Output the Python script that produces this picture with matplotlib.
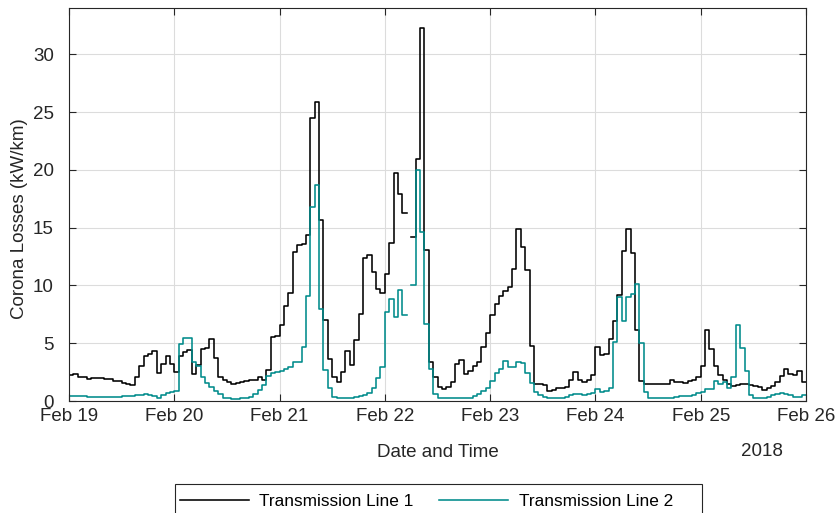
import numpy as np
import pandas as pd
import matplotlib
matplotlib.use("Agg")
from matplotlib import pyplot as plt
from matplotlib.patches import Rectangle
import matplotlib.dates as mdates

plt.rcParams['font.family'] = ['Liberation Sans', 'DejaVu Sans']

# hourly corona losses (kW/km), Feb 19 - Feb 25 2018, one row per day
line1 = [
    2.25, 2.3, 2.05, 2.1, 1.9, 2.0, 1.95, 1.95, 1.9, 1.9, 1.75, 1.7, 1.55, 1.45, 1.4, 2.1, 3.0, 3.9, 4.05, 4.3, 2.4, 3.2, 3.9, 3.2,
    2.5, 3.9, 4.2, 4.4, 2.35, 3.1, 4.5, 4.6, 5.4, 3.7, 2.1, 1.8, 1.65, 1.5, 1.6, 1.65, 1.7, 1.8, 1.85, 2.05, 1.8, 2.7, 5.5, 5.6,
    6.6, 8.2, 9.35, 12.9, 13.5, 13.6, 14.35, 24.5, 25.9, 15.7, 7.0, 3.6, 2.05, 1.68, 2.5, 4.35, 3.1, 5.3, 7.5, 12.4, 12.6, 11.2, 9.7, 9.35,
    11.0, 13.7, 19.7, 17.9, 16.3, np.nan, 14.2, 20.9, 32.3, 13.1, 3.4, 2.1, 1.25, 1.05, 1.25, 1.65, 3.2, 3.55, 2.3, 2.6, 3.0, 3.4, 4.7, 5.9,
    7.4, 8.4, 9.1, 9.5, 9.9, 11.4, 14.9, 13.3, 11.3, 4.8, 1.45, 1.45, 1.4, 0.9, 0.95, 1.1, 1.1, 1.2, 1.8, 2.5, 1.8, 1.65, 1.85, 2.25,
    4.7, 4.0, 4.1, 5.4, 6.9, 9.2, 12.95, 14.9, 12.8, 6.1, 1.75, 1.5, 1.5, 1.5, 1.45, 1.5, 1.5, 1.85, 1.65, 1.65, 1.6, 1.7, 1.8, 2.1,
    3.0, 6.15, 4.5, 3.0, 2.25, 1.8, 1.45, 1.3, 1.4, 1.45, 1.5, 1.4, 1.3, 1.2, 0.95, 1.1, 1.3, 1.65, 2.15, 2.75, 2.35, 2.25, 2.6, 1.65,
]
line2 = [
    0.42, 0.42, 0.4, 0.4, 0.38, 0.38, 0.36, 0.35, 0.35, 0.35, 0.36, 0.38, 0.4, 0.42, 0.45, 0.5, 0.55, 0.58, 0.5, 0.42, 0.3, 0.55, 0.65, 0.75,
    0.85, 4.9, 5.45, 5.45, 3.4, 3.0, 2.1, 1.6, 1.2, 0.87, 0.6, 0.3, 0.22, 0.2, 0.2, 0.22, 0.3, 0.38, 0.6, 0.95, 1.4, 2.2, 2.4, 2.5,
    2.6, 2.75, 2.9, 3.4, 3.4, 4.7, 9.05, 16.8, 18.7, 8.0, 2.7, 1.15, 0.38, 0.3, 0.28, 0.28, 0.3, 0.35, 0.45, 0.5, 0.65, 1.1, 2.0, 2.9,
    7.66, 8.85, 7.3, 9.6, 7.4, np.nan, 10.06, 20.0, 14.6, 6.7, 2.8, 0.6, 0.3, 0.25, 0.25, 0.25, 0.25, 0.28, 0.28, 0.3, 0.43, 0.64, 0.87, 1.1,
    1.76, 2.4, 2.8, 3.47, 2.9, 2.9, 3.4, 3.3, 2.45, 1.53, 0.8, 0.5, 0.35, 0.25, 0.23, 0.23, 0.3, 0.35, 0.5, 0.6, 0.6, 0.55, 0.6, 0.7,
    1.0, 0.75, 0.9, 1.1, 5.1, 9.0, 6.9, 9.0, 9.3, 10.1, 5.0, 0.8, 0.25, 0.25, 0.25, 0.25, 0.28, 0.3, 0.35, 0.4, 0.42, 0.45, 0.5, 0.65,
    0.8, 1.0, 1.05, 1.75, 1.5, 1.65, 1.1, 2.05, 6.6, 4.55, 2.6, 0.5, 0.3, 0.3, 0.3, 0.32, 0.5, 0.57, 0.65, 0.6, 0.5, 0.38, 0.33, 0.5,
]
labels = ['Transmission Line 1', 'Transmission Line 2']
colors = ['#000000', '#008b8b']

# stairs need one extra edge at the end
t = pd.date_range('2018-02-19', periods=len(line1) + 1, freq='h')
y1 = line1 + [line1[-1]]
y2 = line2 + [line2[-1]]

W, H = 838, 513
fig = plt.figure(figsize=(W / 100, H / 100), dpi=100)
ax = fig.add_axes([69 / W, 1 - 401 / H, 737 / W, 393 / H])

ax.step(t, y1, where='post', color=colors[0], lw=1.15, label=labels[0])
ax.step(t, y2, where='post', color=colors[1], lw=1.15, label=labels[1])

ax.set_xlim(t[0], t[-1])
ax.set_ylim(0, 34)
ax.set_yticks([0, 5, 10, 15, 20, 25, 30])
ax.xaxis.set_major_locator(mdates.DayLocator())
ax.xaxis.set_major_formatter(mdates.DateFormatter('%b %d'))

ax.grid(True, color='#dcdcdc', lw=0.8)
ax.set_axisbelow(True)
for s in ax.spines.values():
    s.set_color('#262626')
    s.set_linewidth(0.8)
ax.tick_params(direction='in', length=5, width=0.8, colors='#262626',
               labelsize=13.5, top=True, right=True)
ax.tick_params(axis='x', pad=5)
ax.tick_params(axis='y', pad=11)

ax.set_xlabel('Date and Time', fontsize=13.5, color='#262626', labelpad=14)
ax.set_ylabel('Corona Losses (kW/km)', fontsize=13.5, color='#262626')
ax.yaxis.set_label_coords(-0.056, 0.465)
fig.text(783 / W, 1 - 451 / H, '2018', fontsize=13.5, color='#262626',
         ha='right', va='center')

# legend box runs off the bottom edge of the figure
box = Rectangle((175 / W, 1 - 520 / H), 527 / W, 36 / H, transform=fig.transFigure,
                facecolor='white', edgecolor='#262626', lw=0.8, zorder=2)
fig.add_artist(box)
leg = fig.legend(loc='center', bbox_to_anchor=(426.5 / W, 1 - 501 / H),
                 ncol=2, fontsize=12.4, frameon=False,
                 handlelength=4.0, handletextpad=0.6, columnspacing=1.5,
                 borderpad=0.0)
leg.set_zorder(3)

fig.savefig('out.png', dpi=100)
